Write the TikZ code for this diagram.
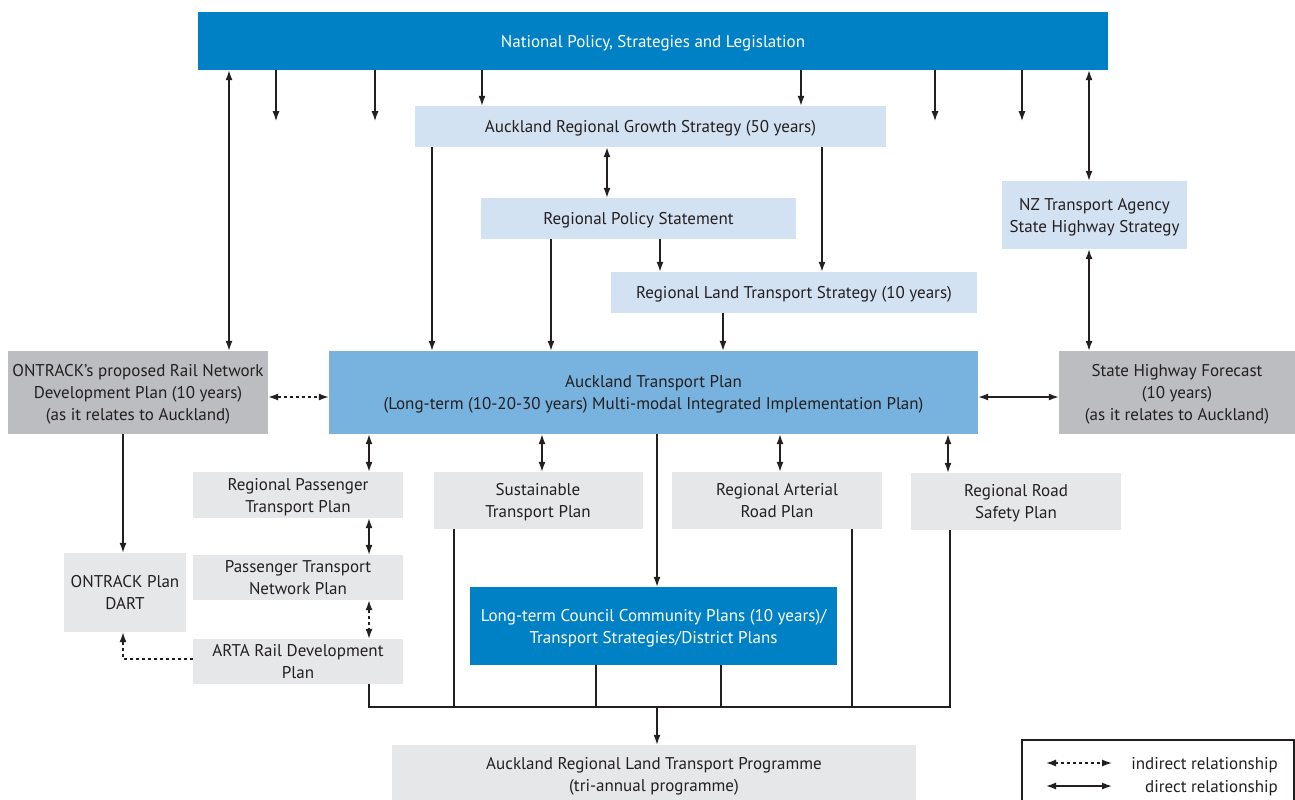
\documentclass[tikz,border=0pt]{standalone}
\usepackage{fontspec}
\setmainfont{PT Sans}
\usetikzlibrary{arrows.meta}
\definecolor{nat-blue}{HTML}{0081C6}
\definecolor{plan-blue}{HTML}{78B2DE}
\definecolor{pale-blue}{HTML}{D3E2F3}
\definecolor{mid-gray}{HTML}{BCBDC0}
\definecolor{pale-gray}{HTML}{E6E7E8}
\definecolor{ink}{HTML}{231F20}

\tikzset{
  box/.style={inner sep=0pt, align=center, text=ink, text depth=0pt, font=\fontsize{17}{22}\selectfont},
  line/.style={draw=ink, line width=1.4pt},
  direct/.style={line, -{Latex[length=10pt,width=7pt]}},
  both/.style={line, {Latex[length=10pt,width=7pt]}-{Latex[length=10pt,width=7pt]}},
  indirect/.style={line, dash pattern=on 3pt off 3pt}
}

\begin{document}
\begin{tikzpicture}[x=1pt, y=-1pt]
  \useasboundingbox (0,0) rectangle (1295,800);

  % boxes
  \node[box, fill=nat-blue, text=white, minimum width=910pt, minimum height=58pt] (np) at (653,41)
        {National Policy, Strategies and Legislation};
  \node[box, fill=pale-blue, minimum width=471pt, minimum height=41pt] (args) at (650.5,126.5)
        {Auckland Regional Growth Strategy (50 years)};
  \node[box, fill=pale-blue, minimum width=315pt, minimum height=41pt] (rps) at (638.5,218.5)
        {Regional Policy Statement};
  \node[box, fill=pale-blue, minimum width=366pt, minimum height=41pt] (rlts) at (794,292.5)
        {Regional Land Transport Strategy (10 years)};
  \node[box, fill=pale-blue, minimum width=185pt, minimum height=68pt] (nzta) at (1094.5,215)
        {NZ Transport Agency\\State Highway Strategy};
  \node[box, fill=mid-gray, minimum width=260pt, minimum height=83pt] (ontrack) at (138,392.5)
        {ONTRACK’s proposed Rail Network\\Development Plan (10 years)\\(as it relates to Auckland)};
  \node[box, fill=plan-blue, minimum width=649pt, minimum height=83pt] (atp) at (653.5,392.5)
        {Auckland Transport Plan\\(Long-term (10-20-30 years) Multi-modal Integrated Implementation Plan)};
  \node[box, fill=mid-gray, minimum width=236pt, minimum height=83pt] (shf) at (1177,392.5)
        {State Highway Forecast\\(10 years)\\(as it relates to Auckland)};
  \node[box, fill=pale-gray, minimum width=210pt, minimum height=46pt] (rptp) at (298,495)
        {Regional Passenger\\Transport Plan};
  \node[box, fill=pale-gray, minimum width=209pt, minimum height=57pt] (stp) at (538,500.5)
        {Sustainable\\Transport Plan};
  \node[box, fill=pale-gray, minimum width=210pt, minimum height=57pt] (rarp) at (777,500.5)
        {Regional Arterial\\Road Plan};
  \node[box, fill=pale-gray, minimum width=210pt, minimum height=57pt] (rrsp) at (1016,501.5)
        {Regional Road\\Safety Plan};
  \node[box, fill=pale-gray, minimum width=122pt, minimum height=79pt] (dart) at (125,592.5)
        {ONTRACK Plan\\DART};
  \node[box, fill=pale-gray, minimum width=210pt, minimum height=45pt] (ptnp) at (298,577.5)
        {Passenger Transport\\Network Plan};
  \node[box, fill=nat-blue, text=white, minimum width=367pt, minimum height=78pt] (ltccp) at (653.5,626)
        {Long-term Council Community Plans (10 years)/\\Transport Strategies/District Plans};
  \node[box, fill=pale-gray, minimum width=210pt, minimum height=45pt] (arta) at (298,661.5)
        {ARTA Rail Development\\Plan};
  \node[box, fill=pale-gray, minimum width=524pt, minimum height=58pt] (arltp) at (654,774)
        {Auckland Regional Land Transport Programme\\(tri-annual programme)};

  % from national policy
  \foreach \x in {276,375,935,1022}
    \draw[direct] (np.south -| \x,0) -- ++(0,51);
  \foreach \x in {482,801}
    \draw[direct] (np.south -| \x,0) -- (args.north -| \x,0);
  \draw[both] (np.south -| 229,0) -- (ontrack.north -| 229,0);
  \draw[both] (np.south -| 1089,0) -- (nzta.north -| 1089,0);
  \draw[both] (nzta.south -| 1089,0) -- (shf.north -| 1089,0);

  % regional strategies
  \draw[both] (args.south -| 607,0) -- (rps.north -| 607,0);
  \draw[direct] (args.south -| 432,0) -- (atp.north -| 432,0);
  \draw[direct] (args.south -| 822,0) -- (rlts.north -| 822,0);
  \draw[direct] (rps.south -| 660,0) -- (rlts.north -| 660,0);
  \draw[direct] (rps.south -| 551,0) -- (atp.north -| 551,0);
  \draw[direct] (rlts.south -| 723,0) -- (atp.north -| 723,0);

  % around the transport plan
  \draw[both, indirect] (ontrack.east |- 0,397) -- (atp.west |- 0,397);
  \draw[both] (atp.east |- 0,397) -- (shf.west |- 0,397);
  \draw[both] (atp.south -| 369,0) -- (rptp.north -| 369,0);
  \draw[both] (atp.south -| 542,0) -- (stp.north -| 542,0);
  \draw[both] (atp.south -| 780,0) -- (rarp.north -| 780,0);
  \draw[both] (atp.south -| 948,0) -- (rrsp.north -| 948,0);
  \draw[direct] (atp.south -| 657,0) -- (ltccp.north -| 657,0);
  \draw[direct] (ontrack.south -| 123,0) -- (dart.north -| 123,0);
  \draw[both] (rptp.south -| 369,0) -- (ptnp.north -| 369,0);
  \draw[both, indirect] (ptnp.south -| 369,0) -- (arta.north -| 369,0);
  \draw[direct, indirect] (arta.west |- 0,659) -| (dart.south -| 123,0);

  % collector into the programme
  \coordinate (busL) at (369,707);
  \coordinate (busR) at (950,707);
  \draw[line] (arta.south -| busL) -- (busL) -- (busR) -- (rrsp.south -| busR);
  \foreach \x/\n in {454/stp, 596/ltccp, 721/ltccp, 852/rarp}
    \draw[line] (\n.south -| \x,0) -- (\x,707);
  \draw[direct] (657,707) -- (arltp.north -| 657,0);

  % legend
  \draw[line] (1022,740) rectangle (1294,812);
  \coordinate (ia) at (1046,763);
  \coordinate (ib) at (1112,763);
  \coordinate (da) at (1046,786);
  \coordinate (db) at (1112,786);
  \draw[both, indirect] (ia) -- (ib);
  \draw[both] (da) -- (db);
  \node[box, anchor=east] (ilabel) at (1278,763) {indirect relationship};
  \node[box, anchor=east] (dlabel) at (1278,786) {direct relationship};
\end{tikzpicture}
\end{document}
